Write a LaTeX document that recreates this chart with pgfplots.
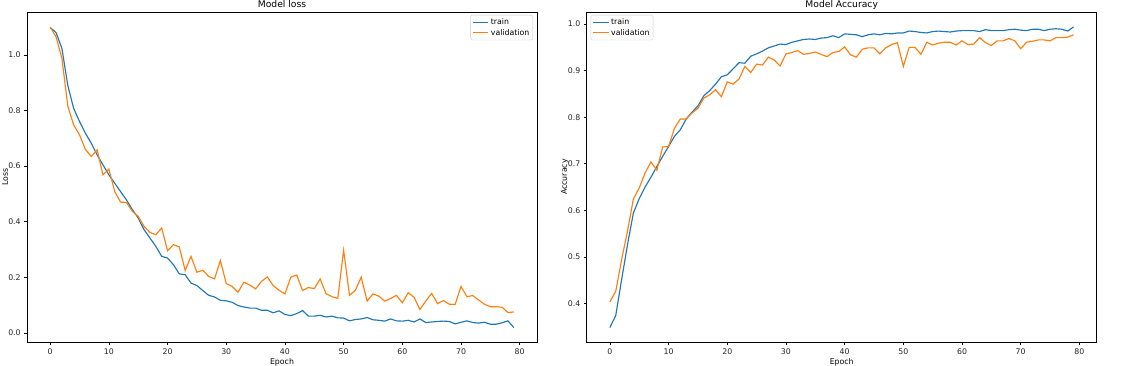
\documentclass[border=0pt]{standalone}
\usepackage{fontspec}
\setmainfont{DejaVu Sans}
\usepackage{pgfplots}
\usepackage{pgfplotstable}
\pgfplotsset{compat=1.18}
\definecolor{mplblue}{HTML}{1F77B4}
\definecolor{mplorange}{HTML}{FF7F0E}

\pgfplotstableread{
e train val
0 1.098 1.100
1 1.080 1.065
2 1.023 0.987
3 0.890 0.816
4 0.807 0.748
5 0.760 0.712
6 0.718 0.660
7 0.682 0.634
8 0.640 0.658
9 0.604 0.568
10 0.568 0.589
11 0.538 0.508
12 0.508 0.470
13 0.478 0.469
14 0.443 0.437
15 0.413 0.419
16 0.371 0.383
17 0.341 0.361
18 0.311 0.353
19 0.275 0.377
20 0.269 0.295
21 0.245 0.317
22 0.212 0.309
23 0.209 0.224
24 0.179 0.275
25 0.170 0.218
26 0.152 0.225
27 0.135 0.203
28 0.129 0.194
29 0.117 0.260
30 0.115 0.177
31 0.110 0.167
32 0.098 0.146
33 0.093 0.182
34 0.089 0.172
35 0.089 0.158
36 0.081 0.185
37 0.081 0.201
38 0.072 0.170
39 0.079 0.153
40 0.066 0.140
41 0.062 0.200
42 0.069 0.208
43 0.080 0.152
44 0.060 0.163
45 0.060 0.159
46 0.063 0.194
47 0.057 0.141
48 0.060 0.130
49 0.054 0.124
50 0.053 0.297
51 0.043 0.135
52 0.048 0.153
53 0.050 0.200
54 0.055 0.114
55 0.047 0.140
56 0.045 0.132
57 0.042 0.114
58 0.050 0.123
59 0.043 0.135
60 0.042 0.108
61 0.045 0.144
62 0.039 0.128
63 0.050 0.084
64 0.037 0.114
65 0.039 0.142
66 0.041 0.105
67 0.042 0.116
68 0.041 0.103
69 0.032 0.102
70 0.038 0.167
71 0.043 0.130
72 0.037 0.134
73 0.035 0.118
74 0.038 0.103
75 0.031 0.094
76 0.031 0.094
77 0.036 0.092
78 0.043 0.073
79 0.019 0.075
}\losstable

\pgfplotstableread{
e train val
0 0.348 0.403
1 0.374 0.426
2 0.451 0.494
3 0.526 0.555
4 0.594 0.624
5 0.625 0.648
6 0.650 0.680
7 0.671 0.704
8 0.694 0.686
9 0.716 0.736
10 0.737 0.737
11 0.759 0.776
12 0.773 0.796
13 0.796 0.796
14 0.811 0.809
15 0.824 0.819
16 0.846 0.841
17 0.857 0.848
18 0.871 0.859
19 0.887 0.844
20 0.891 0.876
21 0.904 0.871
22 0.917 0.882
23 0.916 0.909
24 0.931 0.896
25 0.936 0.914
26 0.942 0.912
27 0.949 0.929
28 0.953 0.923
29 0.957 0.910
30 0.956 0.936
31 0.961 0.939
32 0.964 0.943
33 0.967 0.935
34 0.968 0.937
35 0.967 0.940
36 0.970 0.935
37 0.971 0.930
38 0.975 0.939
39 0.971 0.941
40 0.979 0.951
41 0.978 0.934
42 0.977 0.929
43 0.973 0.946
44 0.977 0.949
45 0.979 0.949
46 0.977 0.936
47 0.980 0.949
48 0.979 0.956
49 0.981 0.960
50 0.981 0.909
51 0.985 0.950
52 0.984 0.950
53 0.982 0.935
54 0.981 0.961
55 0.984 0.955
56 0.985 0.959
57 0.984 0.961
58 0.983 0.961
59 0.985 0.955
60 0.986 0.964
61 0.986 0.956
62 0.986 0.957
63 0.984 0.971
64 0.988 0.960
65 0.986 0.954
66 0.986 0.964
67 0.986 0.964
68 0.988 0.969
69 0.989 0.964
70 0.987 0.947
71 0.986 0.961
72 0.989 0.963
73 0.989 0.966
74 0.986 0.966
75 0.989 0.964
76 0.990 0.971
77 0.989 0.971
78 0.985 0.972
79 0.994 0.977
}\acctable

\pgfplotsset{
  mplstyle/.style={
    scale only axis,
    width=510pt, height=330pt,
    anchor=south west,
    axis line style={black, line width=0.6pt},
    xmin=-3.95, xmax=82.95,
    xtick={0,10,...,80},
    tick align=outside,
    xtick pos=bottom, ytick pos=left,
    major tick length=2.8pt,
    every tick/.style={black, line width=0.6pt},
    /pgf/number format/assume math mode=true,
    tick label style={font=\fontsize{7.8}{9}\selectfont, text=black!85},
    xticklabel style={yshift=-0.5pt},
    yticklabel style={/pgf/number format/fixed, /pgf/number format/fixed zerofill, /pgf/number format/precision=1},
    xlabel={Epoch},
    xlabel style={yshift=3pt, font=\fontsize{7.8}{9}\selectfont},
    every axis y label/.style={at={(axis description cs:-0.043,0.5)}, rotate=90, anchor=center, font=\fontsize{7.8}{9}\selectfont},
    every axis title/.style={at={(axis description cs:0.5,1)}, anchor=base, yshift=4.5pt, font=\fontsize{9.2}{11}\selectfont},
    legend style={font=\fontsize{7.8}{9}\selectfont, draw=black!20, rounded corners=2pt, fill=white, fill opacity=0.8, text opacity=1, inner sep=1.5pt, row sep=-1pt},
    legend cell align=left,
    legend image code/.code={\draw[#1] (0pt,0pt) -- (15.6pt,0pt);},
    every axis plot/.style={line width=1.15pt},
  }
}

\begin{document}
\begin{tikzpicture}
\path[use as bounding box] (0,0) rectangle (1128pt,366pt);
\begin{axis}[mplstyle,
  at={(27pt,24pt)},
  ymin=-0.033, ymax=1.154,
  ytick={0,0.2,...,1.0},
  ylabel={Loss},
  title={Model loss},
  legend style={at={(1,1)}, anchor=north east, xshift=-4pt, yshift=-3pt},
]
\addplot[mplblue] table[x=e, y=train] {\losstable};
\addlegendentry{train}
\addplot[mplorange] table[x=e, y=val] {\losstable};
\addlegendentry{validation}
\end{axis}
\begin{axis}[mplstyle,
  at={(586.7pt,24pt)},
  ymin=0.317, ymax=1.026,
  ytick={0.4,0.5,...,1.0},
  ylabel={Accuracy},
  title={Model Accuracy},
  legend style={at={(0,1)}, anchor=north west, xshift=4pt, yshift=-3pt},
]
\addplot[mplblue] table[x=e, y=train] {\acctable};
\addlegendentry{train}
\addplot[mplorange] table[x=e, y=val] {\acctable};
\addlegendentry{validation}
\end{axis}
\end{tikzpicture}
\end{document}
